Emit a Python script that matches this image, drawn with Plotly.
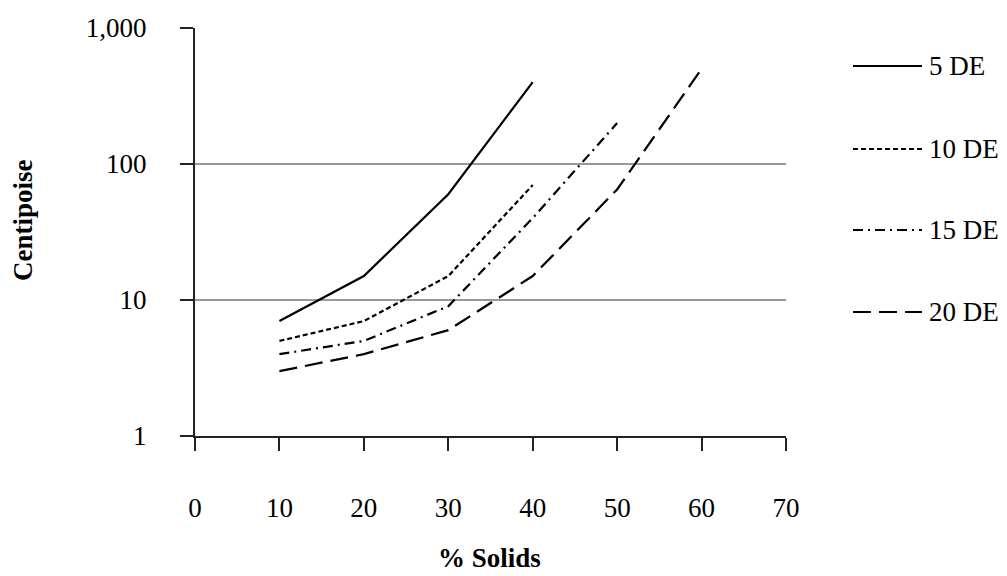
import plotly.graph_objects as go

# Data
series_names = ["5 DE", "10 DE", "15 DE", "20 DE"]
x_5 = [10, 20, 30, 40]
y_5 = [7, 15, 60, 400]
x_10 = [10, 20, 30, 40]
y_10 = [5, 7, 15, 70]
x_15 = [10, 20, 30, 40, 50]
y_15 = [4, 5, 9, 40, 200]
x_20 = [10, 20, 30, 40, 50, 60]
y_20 = [3, 4, 6, 15, 65, 500]
y_tickvals = [1, 10, 100, 1000]
y_ticktext = ["1", "10", "100", "1,000"]
x_tickvals = [0, 10, 20, 30, 40, 50, 60, 70]

dashes = ["solid", "5px,3px", "10px,5px,2px,5px", "18px,8px"]
xs = [x_5, x_10, x_15, x_20]
ys = [y_5, y_10, y_15, y_20]

FONT = "Liberation Serif"
W, H = 1007, 576
L, R, T, B = 195, 221, 28, 140
pw = W - L - R
ph = H - T - B

fig = go.Figure()
for name, x, y, d in zip(series_names, xs, ys, dashes):
    fig.add_trace(go.Scatter(x=x, y=y, mode="lines", name=name,
                             line=dict(color="black", width=2.2, dash=d),
                             showlegend=False))

# manual legend
legend_y = [66, 149, 230, 312]
shapes = []
annotations = []
for name, d, py in zip(series_names, dashes, legend_y):
    yp = 1 - (py - T) / ph
    shapes.append(dict(type="line", xref="paper", yref="paper",
                       x0=(853 - L) / pw, x1=(922 - L) / pw, y0=yp, y1=yp,
                       line=dict(color="black", width=2.2, dash=d)))
    annotations.append(dict(xref="paper", yref="paper", x=(927 - L) / pw, y=yp,
                            text=name, showarrow=False, xanchor="left", yanchor="middle",
                            font=dict(family=FONT, size=27, color="black")))

annotations.append(dict(xref="paper", yref="paper", x=(489 - L) / pw,
                        y=-(558 - (T + ph)) / ph, text="<b>% Solids</b>", showarrow=False,
                        xanchor="center", yanchor="middle",
                        font=dict(family=FONT, size=27, color="black")))
annotations.append(dict(xref="paper", yref="paper", x=-(L - 23) / pw,
                        y=1 - (220 - T) / ph,
                        text="<b>Centipoise</b>", showarrow=False, textangle=-90,
                        xanchor="center", yanchor="middle",
                        font=dict(family=FONT, size=27, color="black")))

fig.update_layout(
    width=W, height=H,
    margin=dict(l=L, r=R, t=T, b=B),
    plot_bgcolor="white", paper_bgcolor="white",
    font=dict(family=FONT, size=27, color="black"),
    shapes=shapes, annotations=annotations,
    showlegend=False,
)
fig.update_xaxes(range=[0, 70], tickvals=x_tickvals, showgrid=False, zeroline=False,
                 showline=True, linecolor="#222", linewidth=2,
                 ticks="outside", ticklen=13, tickwidth=2, tickcolor="#222",
                 ticklabelstandoff=34, tickfont=dict(family=FONT, size=27))
fig.update_yaxes(type="log", range=[0, 3], tickvals=y_tickvals, ticktext=y_ticktext,
                 showgrid=True, gridcolor="#999999", gridwidth=1.5, zeroline=False,
                 showline=True, linecolor="#222", linewidth=2,
                 ticks="outside", ticklen=13, tickwidth=2, tickcolor="#222",
                 ticklabelstandoff=28, tickfont=dict(family=FONT, size=27))

fig.write_html("out.html")
